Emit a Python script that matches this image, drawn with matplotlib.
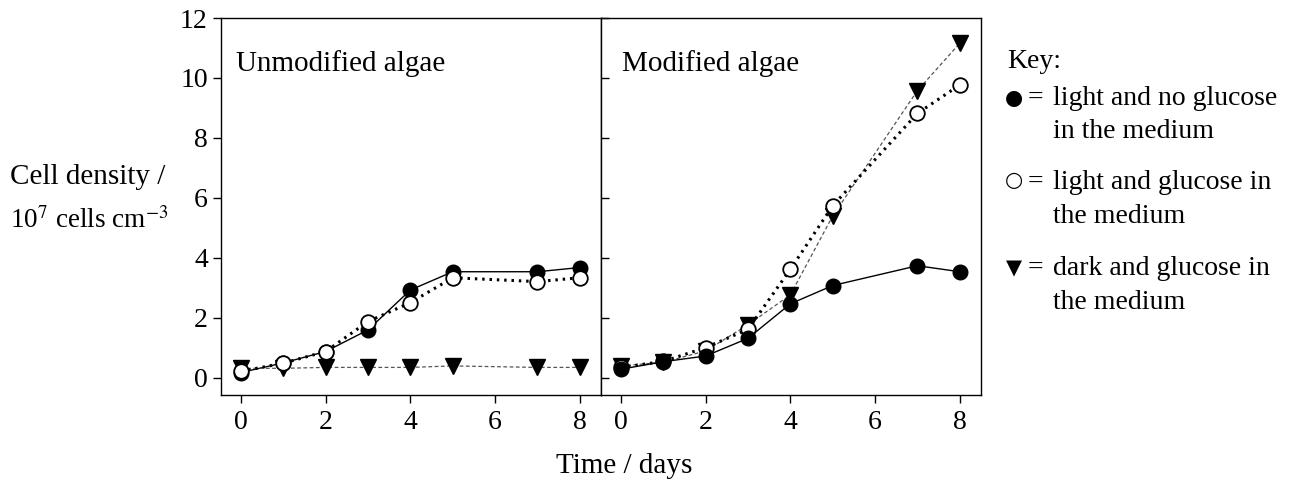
import matplotlib
matplotlib.use("Agg")
import matplotlib.pyplot as plt

plt.rcParams['font.family'] = ['Liberation Serif', 'DejaVu Serif']
plt.rcParams['mathtext.fontset'] = 'stix'

days = [0, 1, 2, 3, 4, 5, 7, 8]

# Unmodified algae
unmod_light_noglc = [0.18, 0.50, 0.88, 1.60, 2.93, 3.54, 3.54, 3.68]
unmod_light_glc = [0.22, 0.49, 0.88, 1.88, 2.51, 3.34, 3.21, 3.34]
unmod_dark_glc = [0.32, 0.32, 0.35, 0.35, 0.35, 0.40, 0.35, 0.35]

# Modified algae
mod_light_noglc = [0.29, 0.54, 0.73, 1.32, 2.47, 3.08, 3.74, 3.54]
mod_light_glc = [0.35, 0.55, 1.01, 1.62, 3.62, 5.74, 8.82, 9.77]
mod_dark_glc = [0.40, 0.52, 0.90, 1.77, 2.77, 5.40, 9.58, 11.16]

panel_titles = ["Unmodified algae", "Modified algae"]
xticks = [0, 2, 4, 6, 8]
yticks = [0, 2, 4, 6, 8, 10, 12]

key_items = [("\u25CF", "light and no glucose", "in the medium"),
             ("\u25CB", "light and glucose in", "the medium"),
             ("\u25BC", "dark and glucose in", "the medium")]

W, H = 1295, 484
fig = plt.figure(figsize=(W / 100, H / 100), dpi=100)

def fx(px):
    return px / W

def fy(py):
    return 1 - py / H

ax1 = fig.add_axes([fx(221), fy(395), fx(601) - fx(221), fy(18) - fy(395)])
ax2 = fig.add_axes([fx(601), fy(395), fx(981) - fx(601), fy(18) - fy(395)])

FS = 21
TFS = 20
KFS = 20
ms = 10.5

def draw(ax, filled, opened, tri, order):
    styles = {
        'filled': dict(y=filled, kw=dict(color='black', lw=1.0, ls='-', marker='o',
                                         ms=ms, mfc='black', mec='black')),
        'open': dict(y=opened, kw=dict(color='black', lw=2.2, ls=(0, (0.8, 1.6)), marker='o',
                                       ms=ms, mfc='white', mec='black', mew=1.3)),
        'tri': dict(y=tri, kw=dict(color='#555555', lw=0.9, ls=(0, (3, 2)), marker='v',
                                   ms=ms + 1, mfc='black', mec='black')),
    }
    for i, key in enumerate(order):
        s = styles[key]
        ax.plot(days, s['y'], zorder=3 + i, clip_on=False, **s['kw'])

draw(ax1, unmod_light_noglc, unmod_light_glc, unmod_dark_glc, ['filled', 'tri', 'open'])
draw(ax2, mod_light_noglc, mod_light_glc, mod_dark_glc, ['tri', 'open', 'filled'])

for ax in (ax1, ax2):
    ax.set_xlim(-0.47, 8.5)
    ax.set_ylim(-0.57, 12)
    ax.set_xticks(xticks)
    ax.set_yticks(yticks)
    ax.tick_params(axis='x', direction='out', length=6, width=1, labelsize=TFS, pad=5)
    for sp in ax.spines.values():
        sp.set_linewidth(1.0)

ax1.tick_params(axis='y', direction='out', length=6, width=1, labelsize=TFS, pad=3.5)
ax2.tick_params(axis='y', direction='in', length=6, width=1, labelleft=False)

ax1.text(0.04, 0.88, panel_titles[0], transform=ax1.transAxes, fontsize=FS, ha='left', va='center')
ax2.text(0.055, 0.88, panel_titles[1], transform=ax2.transAxes, fontsize=FS, ha='left', va='center')

# Axis labels
fig.text(fx(88), fy(184), "Cell density /", fontsize=FS, ha='center', va='baseline')
fig.text(fx(89), fy(228), r"10$^{7}$ cells cm$^{-3}$", fontsize=19.5, ha='center', va='baseline')
fig.text(fx(624), fy(466), "Time / days", fontsize=FS, ha='center', va='center')

# Key
fig.text(fx(1007), fy(68), "Key:", fontsize=KFS, ha='left', va='baseline')
row_y = [(105, 138), (189, 223), (275, 309)]
sym_y = [98, 180, 268]
for (sym, l1, l2), (y1, y2), sy in zip(key_items, row_y, sym_y):
    fig.text(fx(1014), fy(sy), sym, fontsize=15, ha='center', va='center',
             family=['DejaVu Sans'])
    fig.text(fx(1028), fy(y1), "=", fontsize=KFS, ha='left', va='baseline')
    fig.text(fx(1053), fy(y1), l1, fontsize=KFS, ha='left', va='baseline')
    fig.text(fx(1053), fy(y2), l2, fontsize=KFS, ha='left', va='baseline')

fig.savefig("out.png", dpi=100)
